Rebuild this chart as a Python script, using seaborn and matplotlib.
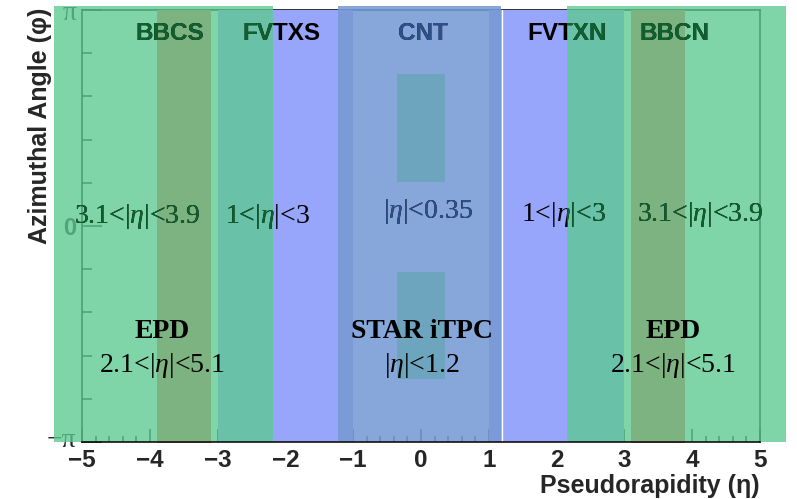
import numpy as np
import matplotlib
matplotlib.use("Agg")
import matplotlib.pyplot as plt
from matplotlib.patches import Rectangle
from matplotlib.ticker import MultipleLocator
from matplotlib.transforms import Bbox, TransformedBbox, ScaledTranslation
import seaborn as sns

sns.set_theme(style="ticks")
plt.rcParams['font.family'] = ['Liberation Sans', 'DejaVu Sans']
plt.rcParams['mathtext.fontset'] = 'custom'
plt.rcParams['mathtext.rm'] = 'Liberation Serif'
plt.rcParams['mathtext.it'] = 'Liberation Serif:italic'
plt.rcParams['mathtext.bf'] = 'Liberation Serif:bold'

PI = np.pi

# detector acceptances: eta ranges (lo, hi), phi ranges (lo, hi)
fvtx_eta = [(-3.0, -1.0), (1.0, 3.0)]
bbc_eta = [(-3.9, -3.1), (3.1, 3.9)]
cnt_eta = (-0.35, 0.35)
cnt_phi = [(0.64, 2.21), (-2.23, -0.67)]
epd_eta = [(-5.41, -2.19), (2.15, 5.38)]
itpc_eta = (-1.23, 1.18)
star_phi = (-PI, PI + 0.06)

# PHENIX labels (top rows)
phenix_names = ["BBCS", "FVTXS", "CNT", "FVTXN", "BBCN"]
phenix_name_x = [-3.70, -2.06, 0.03, 2.16, 3.73]
phenix_ranges = [r"3.1<|$\eta$|<3.9", r"1<|$\eta$|<3", r"|$\eta$|<0.35",
                 r"1<|$\eta$|<3", r"3.1<|$\eta$|<3.9"]
phenix_range_x = [-4.18, -2.27, 0.10, 2.10, 4.12]
phenix_range_y = [0.05, 0.05, 0.12, 0.07, 0.07]

# STAR labels (bottom rows)
star_names = ["EPD", "STAR iTPC", "EPD"]
star_ranges = [r"2.1<|$\eta$|<5.1", r"|$\eta$|<1.2", r"2.1<|$\eta$|<5.1"]
star_x = [-3.82, 0.01, 3.72]

GREEN, GREEN_A = "#5cca90", 0.78
ITPC, ITPC_A = "#779ad4", 0.88
FVTX = "#97a5fb"
BBC = "#f26150"
CNT = "#2cf82a"
DARK_GREEN = "#10602f"
DARK_BLUE = "#2d508a"

fig = plt.figure(figsize=(7.97, 4.99), dpi=100)
ax = fig.add_axes([82 / 797, 57 / 499, 678 / 797, 432 / 499])
ax.set_xlim(-5, 5)
ax.set_ylim(-PI, PI)
ax.set_facecolor("white")
ax.set_axisbelow(True)

# PHENIX detectors
for lo, hi in fvtx_eta:
    ax.add_patch(Rectangle((lo, -PI), hi - lo, 2 * PI, color=FVTX, lw=0, zorder=1))
for lo, hi in bbc_eta:
    ax.add_patch(Rectangle((lo, -PI - 0.02), hi - lo, 2 * PI + 0.02, color=BBC, lw=0,
                           zorder=1.1, clip_on=False))
for lo, hi in cnt_phi:
    ax.add_patch(Rectangle((cnt_eta[0], lo), cnt_eta[1] - cnt_eta[0], hi - lo,
                           color=CNT, lw=0, zorder=1.2))

# STAR detectors (semi-transparent, on top)
for lo, hi in epd_eta:
    ax.add_patch(Rectangle((lo, star_phi[0]), hi - lo, star_phi[1] - star_phi[0],
                           color=GREEN, alpha=GREEN_A, lw=0, zorder=3, clip_on=False))
ax.add_patch(Rectangle((itpc_eta[0], star_phi[0]), itpc_eta[1] - itpc_eta[0],
                       star_phi[1] - star_phi[0], color=ITPC, alpha=ITPC_A, lw=0,
                       zorder=3, clip_on=False))
# thin gap at the iTPC edge
ax.axvline(itpc_eta[1] + 0.012, color="white", lw=1.0, zorder=3.5)

# regions that tint the text drawn "below" the STAR boxes
tint = [(lo, hi, DARK_GREEN) for lo, hi in epd_eta] + [(itpc_eta[0], itpc_eta[1], DARK_BLUE)]


def tinted_text(x, y, s, **kw):
    ax.text(x, y, s, color="black", zorder=6, **kw)
    for lo, hi, c in tint:
        t = ax.text(x, y, s, color=c, zorder=7, **kw)
        t.set_clip_on(True)
        t.set_clip_box(TransformedBbox(Bbox([[lo, -4], [hi, 4]]), ax.transData))


for name, x in zip(phenix_names, phenix_name_x):
    tinted_text(x, 2.705, name, ha="center", va="baseline", fontsize=17.5,
                fontweight="bold", family="Liberation Sans")
for s, x, y in zip(phenix_ranges, phenix_range_x, phenix_range_y):
    tinted_text(x, y, s, ha="center", va="baseline", fontsize=20,
                family="Liberation Serif")

for name, s, x in zip(star_names, star_ranges, star_x):
    ax.text(x, -1.63, name, ha="center", va="baseline", fontsize=20,
            fontweight="bold", family="Liberation Serif", color="black", zorder=8)
    ax.text(x, -2.12, s, ha="center", va="baseline", fontsize=20,
            family="Liberation Serif", color="black", zorder=8)

# axes styling (ROOT look)
for side in ["left", "right", "top", "bottom"]:
    ax.spines[side].set_visible(True)
    ax.spines[side].set_color("#111111")
    ax.spines[side].set_linewidth(1.2)
    ax.spines[side].set_zorder(0.5)
ax.spines["bottom"].set_zorder(9)

ax.set_xticks(range(-5, 6))
ax.xaxis.set_minor_locator(MultipleLocator(0.2))
ax.set_yticks([-PI, 0, PI])
ax.set_yticklabels(["\u2212\u03c0", "0", "\u03c0"])
ax.yaxis.set_minor_locator(MultipleLocator(PI / 5))
ax.tick_params(axis="x", which="major", direction="in", length=9.5, width=1.1,
               color="#111111", pad=5, labelsize=17.5)
ax.tick_params(axis="x", which="minor", direction="in", length=4.5, width=1.1,
               color="#111111")
ax.tick_params(axis="y", which="major", direction="in", length=14.5, width=1.1,
               color="#111111", pad=4, labelsize=20)
ax.tick_params(axis="y", which="minor", direction="in", length=7.2, width=1.1,
               color="#111111")
for lab in ax.get_xticklabels():
    lab.set_fontweight("bold")
ylabs = ax.get_yticklabels()
ylabs[0].set_family("Liberation Serif")
ylabs[2].set_family("Liberation Serif")
ylabs[1].set_fontweight("bold")
ylabs[1].set_fontsize(17)
# lift the -pi label a little so it clears the -5 tick label
ylabs[0].set_transform(ylabs[0].get_transform() + ScaledTranslation(0, 3 / 72, fig.dpi_scale_trans))
ax.grid(False)

fig.text(760 / 797, 6 / 499, "Pseudorapidity (\u03b7)", ha="right", va="baseline",
         fontsize=18, fontweight="bold")
fig.text(40 / 797, 1 - 8 / 499, "Azimuthal Angle (\u03c6)", rotation=90, ha="center",
         va="top", fontsize=18, fontweight="bold")

fig.savefig("out.png", dpi=100, facecolor="white")
